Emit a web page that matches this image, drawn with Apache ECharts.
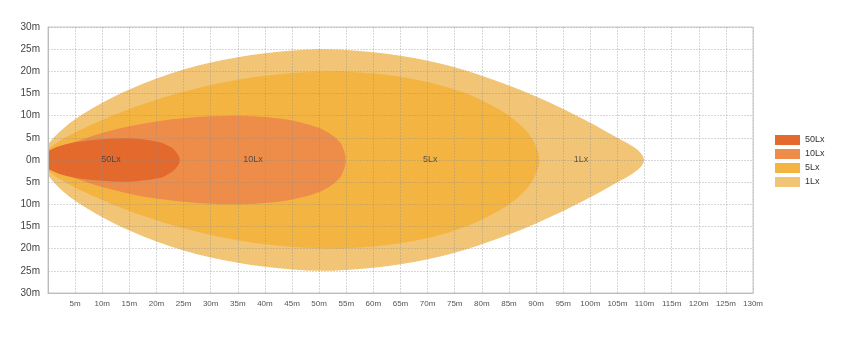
<!DOCTYPE html>
<html>
<head>
<meta charset="utf-8">
<script src="https://cdn.jsdelivr.net/npm/echarts@6/dist/echarts.min.js"></script>
<style>html,body{margin:0;padding:0;background:#fff;}#c{width:850px;height:361px;}</style>
</head>
<body>
<div id="c"></div>
<script>
// Beam pattern outlines: distance (m) and half-width (m)
const names = ['50Lx', '10Lx', '5Lx', '1Lx'];
const x1Lx = [0, 2, 5, 10, 15, 20, 25, 30, 35, 40, 45, 50, 55, 60, 65, 70, 75, 80, 85, 90, 95, 100, 105, 107.5, 109.2, 109.9];
const y1Lx = [3.5, 6.2, 9.2, 12.9, 15.9, 18.4, 20.4, 22.0, 23.2, 24.1, 24.7, 25.0, 24.8, 24.3, 23.5, 22.4, 20.9, 19.0, 16.8, 14.3, 11.5, 8.4, 5.0, 3.3, 1.7, 0];
const x5Lx = [0, 2, 5, 10, 15, 20, 25, 30, 35, 40, 45, 50, 55, 60, 65, 70, 75, 80, 85, 88, 89.8, 90.6];
const y5Lx = [2.5, 4.2, 6.2, 9.0, 11.5, 13.6, 15.4, 16.9, 18.1, 19.0, 19.6, 19.9, 19.9, 19.5, 18.8, 17.6, 15.9, 13.5, 10.0, 6.8, 3.6, 0];
const x10Lx = [0, 2, 5, 10, 15, 20, 25, 30, 35, 40, 45, 50, 53, 54.3, 54.9];
const y10Lx = [1.5, 2.7, 4.1, 6.1, 7.6, 8.7, 9.4, 9.85, 10, 9.7, 8.9, 7.2, 5.0, 3.0, 0];
const x50Lx = [0, 2, 5, 10, 15, 20, 22, 23.5, 24.3];
const y50Lx = [2.0, 3.1, 4.0, 4.7, 4.9, 4.2, 3.3, 2.0, 0];
const labelX = [11.6, 37.8, 70.5, 98.3];
const xTicks = [0, 130, 5];
const yTicks = [-30, 30, 5];

const colors = {'50Lx': '#E4692D', '10Lx': '#EE8C4A', '5Lx': '#F4B441', '1Lx': '#F2C576'};

function curvePath(P) {
  let d = 'M' + P[0][0] + ' ' + P[0][1];
  const n = P.length;
  for (let i = 0; i < n - 1; i++) {
    const p0 = P[Math.max(i - 1, 0)], p1 = P[i], p2 = P[i + 1], p3 = P[Math.min(i + 2, n - 1)];
    const c1 = [p1[0] + (p2[0] - p0[0]) / 6, p1[1] + (p2[1] - p0[1]) / 6];
    const c2 = [p2[0] - (p3[0] - p1[0]) / 6, p2[1] - (p3[1] - p1[1]) / 6];
    d += 'C' + c1[0] + ' ' + c1[1] + ' ' + c2[0] + ' ' + c2[1] + ' ' + p2[0] + ' ' + p2[1];
  }
  return d + 'Z';
}

function shape(name, xs, ys) {
  const pts = [];
  for (let i = 0; i < xs.length; i++) pts.push([xs[i], ys[i]]);
  for (let i = xs.length - 2; i >= 0; i--) pts.push([xs[i], -ys[i]]);
  return {
    type: 'custom',
    name: name,
    z: -1,
    clip: true,
    silent: true,
    itemStyle: {color: colors[name]},
    data: pts,
    encode: {x: 0, y: 1},
    renderItem: function (params, api) {
      if (params.dataIndex !== 0) return null;
      const P = pts.map(p => api.coord(p));
      return {type: 'path', shape: {pathData: curvePath(P)}, style: {fill: colors[name]}};
    }
  };
}

const chart = echarts.init(document.getElementById('c'), null, {renderer: 'canvas'});
chart.setOption({
  animation: false,
  backgroundColor: '#fff',
  grid: {left: 48, right: 97, top: 27, bottom: 68, show: true, borderColor: '#c8c8c8', borderWidth: 1},
  legend: {
    data: names,
    orient: 'vertical',
    left: 775, top: 135, padding: 0,
    itemWidth: 25, itemHeight: 10, itemGap: 4,
    icon: 'rect',
    textStyle: {fontSize: 9, color: '#333', fontFamily: 'Liberation Sans'}
  },
  xAxis: {
    type: 'value', min: xTicks[0], max: xTicks[1], interval: xTicks[2],
    axisLine: {onZero: false, lineStyle: {color: '#bbb'}},
    axisTick: {show: false},
    axisLabel: {fontSize: 8, color: '#555', margin: 7, fontFamily: 'Liberation Sans',
      formatter: v => v === 0 ? '' : v + 'm'},
    splitLine: {show: true, lineStyle: {color: 'rgba(140,140,140,0.35)', type: [2, 1], width: 1}}
  },
  yAxis: {
    type: 'value', min: yTicks[0], max: yTicks[1], interval: yTicks[2],
    axisLine: {show: true, onZero: false, lineStyle: {color: '#bbb'}},
    axisTick: {show: false},
    axisLabel: {fontSize: 10, color: '#444', margin: 8, fontFamily: 'Liberation Sans',
      formatter: v => Math.abs(v) + 'm'},
    splitLine: {show: true, lineStyle: {color: 'rgba(140,140,140,0.35)', type: [2, 1], width: 1}}
  },
  series: [
    shape('1Lx', x1Lx, y1Lx),
    shape('5Lx', x5Lx, y5Lx),
    shape('10Lx', x10Lx, y10Lx),
    shape('50Lx', x50Lx, y50Lx),
    {
      type: 'scatter',
      symbolSize: 0,
      silent: true,
      z: 5,
      data: labelX.map((x, i) => ({value: [x, 0], name: names[i]})),
      label: {show: true, position: 'inside', formatter: p => p.name, fontSize: 9, color: '#3a3a3a', fontFamily: 'Liberation Sans'}
    }
  ]
});
</script>
</body>
</html>
